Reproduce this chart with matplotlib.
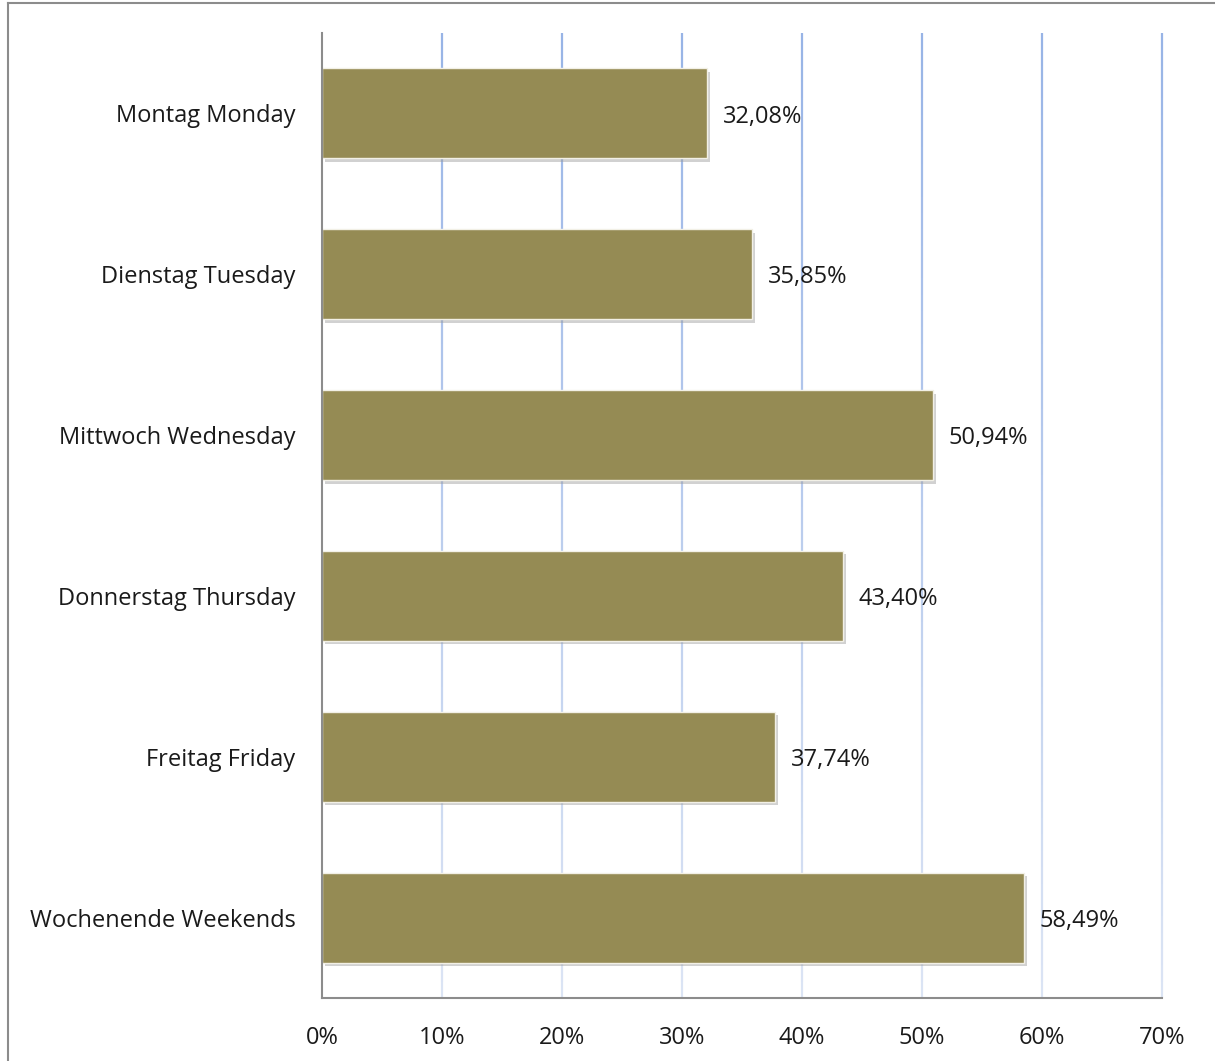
import matplotlib.pyplot as plt
import matplotlib.patheffects as pe
import numpy as np
from matplotlib.lines import Line2D
from matplotlib.collections import LineCollection
from matplotlib.colors import LinearSegmentedColormap

categories = ["Montag Monday", "Dienstag Tuesday", "Mittwoch Wednesday",
              "Donnerstag Thursday", "Freitag Friday", "Wochenende Weekends"]
values = [32.08, 35.85, 50.94, 43.40, 37.74, 58.49]
ticks = [0, 10, 20, 30, 40, 50, 60, 70]

plt.rcParams['font.family'] = ['Open Sans', 'DejaVu Sans']

fig = plt.figure(figsize=(12.15, 10.61), dpi=100)
ax = fig.add_axes([322 / 1215, 1 - 998 / 1061, 840 / 1215, 965 / 1061])

# rahmen der grafik (nur links und oben sichtbar)
fig.add_artist(Line2D([8 / 1215, 8 / 1215], [0, 1 - 3 / 1061], transform=fig.transFigure,
                      color="#8c8c8c", lw=1.5))
fig.add_artist(Line2D([8 / 1215, 1], [1 - 3 / 1061, 1 - 3 / 1061], transform=fig.transFigure,
                      color="#8c8c8c", lw=1.5))

y = list(range(len(categories)))
n = len(categories)

# gitterlinien mit verlauf (oben kraeftiger blau, unten heller)
grad = LinearSegmentedColormap.from_list("grid", ["#98b4e6", "#dbe4f4"])
ys = np.linspace(-0.5, n - 0.5, 60)
for t in ticks[1:]:
    segs = [[(t, ys[i]), (t, ys[i + 1])] for i in range(len(ys) - 1)]
    cols = grad(np.linspace(0, 1, len(segs)))
    ax.add_collection(LineCollection(segs, colors=cols, lw=1.6, zorder=0, clip_on=False))

ax.barh(y, values, height=0.56, color="#958b54", edgecolor="#f2f0e6", lw=1.0, zorder=3,
        path_effects=[pe.SimplePatchShadow(offset=(2, -2.5), shadow_rgbFace="#999999", alpha=0.45),
                      pe.Normal()])

for yi, v in zip(y, values):
    ax.text(v + 1.3, yi + 0.02, f"{v:.2f}%".replace(".", ","), va="center", ha="left",
            fontsize=17, color="#1a1a1a")

ax.set_xlim(0, 70)
ax.set_ylim(n - 0.5, -0.5)
ax.set_xticks(ticks)
ax.set_xticklabels([f"{t}%" for t in ticks], fontsize=17, color="#1a1a1a")
ax.set_yticks(y)
ax.set_yticklabels(categories, fontsize=17, color="#1a1a1a")
ax.tick_params(length=0)
ax.tick_params(axis="x", pad=20)
ax.tick_params(axis="y", pad=19)

for s in ["top", "right"]:
    ax.spines[s].set_visible(False)
for s in ["left", "bottom"]:
    ax.spines[s].set_color("#8c8c8c")
    ax.spines[s].set_linewidth(1.5)
    ax.spines[s].set_zorder(4)

fig.savefig("out.png", dpi=100)
